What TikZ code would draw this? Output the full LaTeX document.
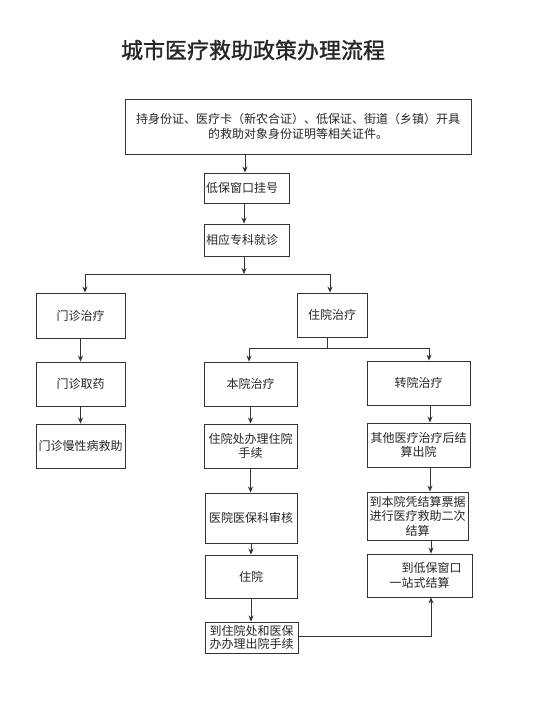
\documentclass[tikz,border=0pt]{standalone}
\usepackage{fontspec}
\setmainfont{Noto Sans CJK SC}
\newfontfamily\titlefont[FakeBold=1.2]{Noto Sans CJK SC}
\usetikzlibrary{arrows.meta}
\begin{document}
\begin{tikzpicture}[x=1pt,y=-1pt,
  box/.style={draw=black!80, line width=0.9pt, rectangle, inner sep=0pt, align=center,
    font=\fontsize{12}{14.5}\selectfont, text=black!85},
  arr/.style={draw=black!80, line width=0.8pt, -{Stealth[length=6pt,width=5pt]}},
  ln/.style={draw=black!80, line width=0.8pt}]
\useasboundingbox[fill=white] (0,0) rectangle (554,719);
\node[font=\fontsize{22}{26}\titlefont, text=black!85] (title) at (253,50) {城市医疗救助政策办理流程};
\node[box, minimum width=346pt, minimum height=55pt] (b1) at (298,126.5)
  {持身份证、医疗卡（新农合证）、低保证、街道（乡镇）开具\\的救助对象身份证明等相关证件。};
\node[box, align=left, text width=81pt, inner xsep=2pt, minimum height=30pt] (b2) at (246.5,188) {低保窗口挂号};
\node[box, align=left, text width=81pt, inner xsep=2pt, minimum height=32pt] (b3) at (246.5,240) {相应专科就诊};
\node[box, minimum width=89pt, minimum height=45pt] (mz) at (80.5,315.5) {门诊治疗};
\node[box, minimum width=70pt, minimum height=44pt] (zy) at (332,315) {住院治疗};
\node[box, minimum width=89pt, minimum height=44pt] (mq) at (80.5,384) {门诊取药};
\node[box, minimum width=89pt, minimum height=44pt] (mm) at (80.5,446) {门诊慢性病救助};
\node[box, minimum width=93pt, minimum height=44pt] (by) at (250.5,384) {本院治疗};
\node[box, minimum width=103pt, minimum height=44pt] (zh) at (418.5,383) {转院治疗};
\node[box, minimum width=93pt, minimum height=44pt] (zs) at (250.5,446) {住院处办理住院\\手续};
\node[box, minimum width=103pt, minimum height=44pt] (qt) at (418.5,445) {其他医疗治疗后结\\算出院};
\node[box, minimum width=92pt, minimum height=50pt] (sh) at (251,518) {医院医保科审核};
\node[box, minimum width=92pt, minimum height=43pt] (zyy) at (251,576.5) {住院};
\node[box, minimum width=93pt, minimum height=31pt, font=\fontsize{12}{13.5}\selectfont] (cy) at (251.5,637.5) {到住院处和医保\\办办理出院手续};
\node[box, minimum width=101pt, minimum height=48pt] (ec) at (417.5,516) {到本院凭结算票据\\进行医疗救助二次\\结算};
\node[box, minimum width=105pt, minimum height=43pt] (yz) at (419.5,575.5) {\hspace*{24pt}到低保窗口\\一站式结算};
% connectors
\draw[arr] (b1.south -| 245,0) -- (b2.north -| 245,0);
\draw[arr] (b2.south -| 244,0) -- (b3.north -| 244,0);
\coordinate (j1) at (244,274);
\draw[arr] (b3.south -| j1) -- (j1);
\draw[arr] (j1) -| ([xshift=4.5pt]mz.north);
\draw[arr] (j1) -| ([xshift=-2pt]zy.north);
\draw[arr] (mz.south) -- (mq.north);
\draw[arr] (mq.south) -- (mm.north);
\coordinate (j2) at (327,348);
\draw[ln] ([xshift=-5pt]zy.south) -- (j2);
\draw[arr] (j2) -| ([xshift=-1.5pt]by.north);
\draw[arr] (j2) -| ([xshift=10.5pt]zh.north);
\draw[arr] (by.south) -- (zs.north);
\draw[arr] (zs.south) -- (zs.south |- sh.north);
\draw[arr] (sh.south) -- (zyy.north);
\draw[arr] (zyy.south) -- (zyy.south |- cy.north);
\draw[arr] ([xshift=11.5pt]zh.south) -- ([xshift=11.5pt]zh.south |- qt.north);
\draw[arr] ([xshift=11.5pt]qt.south) -- ([xshift=11.5pt]qt.south |- ec.north);
\draw[arr] ([xshift=13.5pt]ec.south) -- ([xshift=13.5pt]ec.south |- yz.north);
\draw[arr] ([yshift=1.5pt]cy.east) -| ([xshift=11.5pt]yz.south);
\end{tikzpicture}
\end{document}
